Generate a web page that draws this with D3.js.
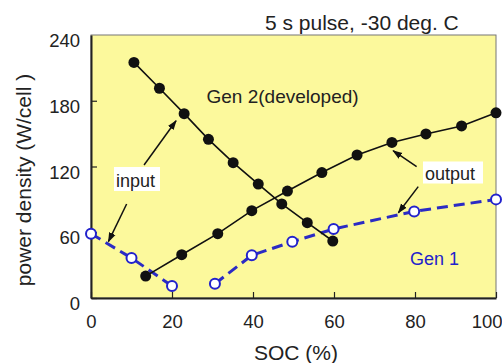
<!doctype html>
<html>
  <head>
    <meta charset="utf8">
    <script src="https://d3js.org/d3.v7.min.js"></script>
    <style type="text/css">
      body { margin: 0; background: #fff; }
      svg { display: block; font-family: 'Liberation Sans', Arial, sans-serif; }
    </style>
  </head>
  <body>
    <script type="text/javascript">
      const w = 502;
      const h = 363;
      const margin = {left: 91, right: 5, top: 35, bottom: 65};

      const xTicks = [0, 20, 40, 60, 80, 100];
      const yTicks = [0, 60, 120, 180, 240];

      // Gen 2 (developed), filled black dots
      const gen2InputSoc = [10.6, 16.9, 23, 29, 35.1, 41.3, 47.1, 53.4, 59.7];
      const gen2InputPow = [215, 191.4, 168.2, 144.8, 123.5, 104, 85.8, 68.7, 52];
      const gen2OutputSoc = [13.5, 22.4, 31.3, 39.7, 48.5, 57, 65.7, 74.3, 82.7, 91.5, 100];
      const gen2OutputPow = [20, 39.5, 58.7, 79.7, 97.6, 114.5, 130.5, 142, 149.7, 157, 169];

      // Gen 1, open blue circles, dashed
      const gen1InputSoc = [0, 10, 20];
      const gen1InputPow = [58.7, 36.5, 11];
      const gen1OutputSoc = [30.6, 39.7, 49.7, 59.9, 79.8, 100];
      const gen1OutputPow = [13, 39, 51.3, 63, 79, 90];

      const zip = (xs, ys) => xs.map((x, i) => [x, ys[i]]);

      const xScale = d3.scaleLinear()
        .domain([0, 100])
        .range([margin.left, w - margin.right - 1]);

      const yScale = d3.scaleLinear()
        .domain([0, 240])
        .range([h - margin.bottom, margin.top]);

      const svg = d3.select('body')
        .append('svg')
        .attr('width', w)
        .attr('height', h);

      svg.append('defs').append('marker')
        .attr('id', 'arrow')
        .attr('viewBox', '0 0 10 10')
        .attr('refX', 9).attr('refY', 5)
        .attr('markerWidth', 10).attr('markerHeight', 10)
        .attr('markerUnits', 'userSpaceOnUse')
        .attr('orient', 'auto')
        .append('path')
        .attr('d', 'M0,1.5 L10,5 L0,8.5 Z')
        .attr('fill', '#111');

      // plot area
      svg.append('rect')
        .attr('x', xScale(0))
        .attr('y', yScale(240))
        .attr('width', xScale(100) - xScale(0))
        .attr('height', yScale(0) - yScale(240))
        .attr('fill', '#fcf99c')
        .attr('stroke', '#777')
        .attr('stroke-width', 1);

      // axes
      const xAxis = d3.axisBottom(xScale).tickValues(xTicks).tickSizeInner(-6).tickSizeOuter(0).tickPadding(17);
      const yAxis = d3.axisLeft(yScale).tickValues(yTicks).tickSizeInner(-6).tickSizeOuter(0).tickPadding(11);

      const gx = svg.append('g')
        .attr('transform', `translate(0,${yScale(0)})`)
        .call(xAxis);
      const gy = svg.append('g')
        .attr('transform', `translate(${xScale(0)},0)`)
        .call(yAxis);

      [gx, gy].forEach((g) => {
        g.select('.domain').attr('stroke', '#222').attr('stroke-width', 2);
        g.selectAll('.tick line').attr('stroke', '#222').attr('stroke-width', 1.2);
        g.selectAll('.tick text').attr('font-size', '18.5px').attr('fill', '#222')
          .attr('font-family', "'Liberation Sans', Arial, sans-serif");
      });
      gx.selectAll('.tick text').filter((d) => d === 100)
        .attr('text-anchor', 'end').attr('x', 6);
      gy.selectAll('.tick text').attr('dy', '0.63em');
      gy.selectAll('.tick line').filter((d) => d === 240).remove();

      svg.append('text')
        .attr('x', 296).attr('y', 360)
        .attr('text-anchor', 'middle')
        .attr('font-size', '21px').attr('fill', '#222')
        .text('SOC (%)');

      svg.append('text')
        .attr('transform', 'translate(31,180) rotate(-90)')
        .attr('text-anchor', 'middle')
        .attr('font-size', '21px').attr('fill', '#222')
        .text('power density (W/cell )');

      svg.append('text')
        .attr('x', 265).attr('y', 30)
        .attr('font-size', '21px').attr('fill', '#222')
        .text('5 s pulse, -30 deg. C');

      const line = d3.line().x((d) => xScale(d[0])).y((d) => yScale(d[1]));

      // Gen 1
      [zip(gen1InputSoc, gen1InputPow), zip(gen1OutputSoc, gen1OutputPow)].forEach((pts) => {
        svg.append('path')
          .attr('d', line(pts))
          .attr('fill', 'none')
          .attr('stroke', '#2b2bc4')
          .attr('stroke-width', 3)
          .attr('stroke-dasharray', '11,6');
        svg.append('g').selectAll('circle')
          .data(pts)
          .enter()
          .append('circle')
          .attr('cx', (d) => xScale(d[0]))
          .attr('cy', (d) => yScale(d[1]))
          .attr('r', 5)
          .attr('fill', '#fff')
          .attr('stroke', '#2222cc')
          .attr('stroke-width', 2);
      });

      // Gen 2
      [zip(gen2InputSoc, gen2InputPow), zip(gen2OutputSoc, gen2OutputPow)].forEach((pts) => {
        svg.append('path')
          .attr('d', line(pts))
          .attr('fill', 'none')
          .attr('stroke', '#111')
          .attr('stroke-width', 1.6);
        svg.append('g').selectAll('circle')
          .data(pts)
          .enter()
          .append('circle')
          .attr('cx', (d) => xScale(d[0]))
          .attr('cy', (d) => yScale(d[1]))
          .attr('r', 5.5)
          .attr('fill', '#111');
      });

      // labels
      svg.append('text')
        .attr('x', 206.5).attr('y', 102.5)
        .attr('font-size', '19px').attr('fill', '#222')
        .text('Gen 2(developed)');

      svg.append('text')
        .attr('x', 410).attr('y', 265)
        .attr('font-size', '18px').attr('fill', '#2222cc')
        .text('Gen 1');

      // annotation boxes and arrows
      const arrows = [
        [[13.1, 121.4], [21.0, 161.8]],
        [[8.8, 85.8], [4.3, 51.4]],
        [[80.4, 119.8], [74.6, 134.4]],
        [[80.8, 101.6], [75.9, 77.8]]
      ];
      svg.selectAll('line.arrow')
        .data(arrows)
        .enter()
        .append('line')
        .attr('class', 'arrow')
        .attr('x1', (d) => xScale(d[0][0]))
        .attr('y1', (d) => yScale(d[0][1]))
        .attr('x2', (d) => xScale(d[1][0]))
        .attr('y2', (d) => yScale(d[1][1]))
        .attr('stroke', '#111')
        .attr('stroke-width', 1.5)
        .attr('marker-end', 'url(#arrow)');

      const boxes = [
        {text: 'input', x: 114, y: 167, w: 46, h: 24, base: 187},
        {text: 'output', x: 423, y: 161.5, w: 60, h: 22, base: 179.5}
      ];
      boxes.forEach((b) => {
        svg.append('rect')
          .attr('x', b.x).attr('y', b.y)
          .attr('width', b.w).attr('height', b.h)
          .attr('fill', '#fff');
        svg.append('text')
          .attr('x', b.x + 2).attr('y', b.base)
          .attr('font-size', '18px').attr('fill', '#222')
          .text(b.text);
      });
    </script>
  </body>
</html>
